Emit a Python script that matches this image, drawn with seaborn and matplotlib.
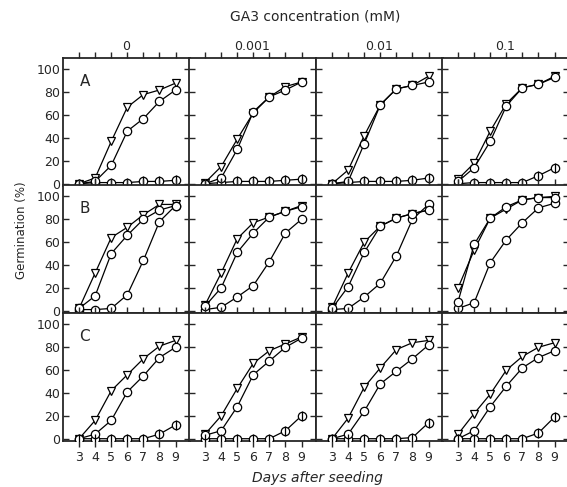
import matplotlib
matplotlib.use("Agg")
from matplotlib import pyplot as plt
import seaborn as sns
import numpy as np

days = [3, 4, 5, 6, 7, 8, 9]
concentrations = ["0", "0.001", "0.01", "0.1"]
rows = ["A", "B", "C"]

# triangles, open circles, barred circles ; one list per panel (row, column)
tri = {
    ("A", 0): [0, 5, 37, 67, 78, 82, 88],
    ("A", 1): [1, 15, 39, 62, 76, 85, 89],
    ("A", 2): [0, 12, 42, 69, 83, 86, 94],
    ("A", 3): [4, 18, 46, 70, 84, 87, 94],
    ("B", 0): [2, 33, 64, 73, 84, 93, 93],
    ("B", 1): [5, 33, 63, 77, 82, 87, 92],
    ("B", 2): [3, 33, 60, 74, 81, 85, 88],
    ("B", 3): [20, 53, 81, 89, 97, 99, 100],
    ("C", 0): [0, 16, 42, 56, 70, 81, 86],
    ("C", 1): [4, 20, 44, 66, 77, 83, 89],
    ("C", 2): [0, 18, 45, 62, 78, 84, 86],
    ("C", 3): [4, 22, 39, 60, 72, 80, 84],
}
circ = {
    ("A", 0): [0, 2, 16, 46, 57, 72, 82],
    ("A", 1): [0, 5, 30, 63, 76, 82, 89],
    ("A", 2): [0, 2, 35, 69, 83, 86, 89],
    ("A", 3): [2, 14, 37, 68, 84, 87, 93],
    ("B", 0): [2, 13, 50, 66, 80, 88, 92],
    ("B", 1): [4, 20, 51, 68, 82, 87, 91],
    ("B", 2): [2, 21, 51, 74, 81, 85, 88],
    ("B", 3): [8, 58, 81, 91, 97, 99, 99],
    ("C", 0): [0, 4, 16, 41, 55, 71, 80],
    ("C", 1): [3, 7, 28, 56, 68, 80, 88],
    ("C", 2): [0, 4, 24, 48, 59, 70, 82],
    ("C", 3): [0, 7, 28, 46, 62, 71, 77],
}
third = {
    ("A", 0): [0, 1, 1, 1, 2, 2, 3],
    ("A", 1): [0, 1, 2, 2, 2, 3, 4],
    ("A", 2): [0, 1, 2, 2, 2, 3, 5],
    ("A", 3): [0, 1, 1, 1, 1, 7, 14],
    ("B", 0): [1, 1, 2, 14, 44, 78, 92],
    ("B", 1): [1, 3, 12, 22, 43, 68, 80],
    ("B", 2): [1, 2, 12, 24, 48, 80, 93],
    ("B", 3): [2, 7, 42, 62, 77, 90, 94],
    ("C", 0): [0, 0, 0, 0, 0, 4, 12],
    ("C", 1): [0, 0, 0, 0, 0, 7, 20],
    ("C", 2): [0, 0, 0, 0, 0, 1, 14],
    ("C", 3): [0, 0, 0, 0, 0, 5, 19],
}

sns.set_style("ticks")
plt.rcParams["font.family"] = ["DejaVu Sans"]

W, H = 567, 487
fig = plt.figure(figsize=(W / 100, H / 100), dpi=100)

col_left = [63, 189, 316, 442]
row_top = [58, 185, 313]
pw, ph = 127, 128

mk = dict(color="black", linewidth=0.9, markersize=6,
          markerfacecolor="white", markeredgecolor="black", markeredgewidth=0.9)

for r, row in enumerate(rows):
    for c in range(4):
        ax = fig.add_axes([col_left[c] / W, (H - row_top[r] - ph) / H, pw / W, ph / H])
        key = (row, c)
        sns.lineplot(x=days, y=tri[key], marker="v", ax=ax, zorder=3, **mk)
        sns.lineplot(x=days, y=third[key], marker="o", ax=ax, zorder=4, **mk)
        sns.lineplot(x=days, y=circ[key], marker="o", ax=ax, zorder=5, **mk)
        if row != "B":
            ax.plot(days, third[key], linestyle="none", marker="|", markersize=6.5,
                    markeredgewidth=0.9, color="black", zorder=6)
        ax.set_xlim(2, 9.9)
        ax.set_ylim(-2, 110)
        ax.set_xticks(days)
        ax.set_yticks(np.arange(0, 101, 20))
        ax.tick_params(axis="x", which="both", top=True, bottom=True,
                       direction="in", length=4, width=1, labelsize=9)
        ax.tick_params(axis="x", which="both", bottom=True, direction="out")
        ax.tick_params(axis="y", left=True, right=True, direction="in",
                       length=4, width=1, labelsize=9, pad=2)
        if c != 0:
            ax.set_yticklabels([])
        if r != 2:
            ax.set_xticklabels([])
        for s in ax.spines.values():
            s.set_linewidth(1.3)
            s.set_visible(True)
        ax.set_xlabel("")
        ax.set_ylabel("")
        if c == 0:
            ax.text(0.13, 0.78, row, transform=ax.transAxes, fontsize=11)
        if r == 0:
            ax.set_title(concentrations[c], fontsize=9, pad=6)

fig.text(315 / W, 1 - 17 / H, "GA3 concentration (mM)", ha="center", va="center", fontsize=10)
fig.text(22 / W, 1 - 230 / H, "Germination (%)", rotation=90, ha="center", va="center", fontsize=8.5)
fig.text(317 / W, 1 - 478 / H, "Days after seeding", ha="center", va="center",
         fontsize=10, style="italic")

fig.savefig("out.png", dpi=100)
